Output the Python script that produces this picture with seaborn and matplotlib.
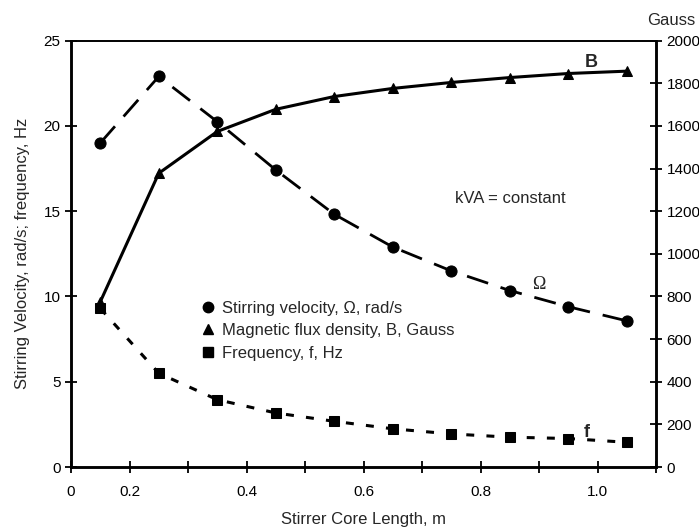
import pandas as pd
import seaborn as sns
import matplotlib.pyplot as plt
from matplotlib.lines import Line2D

# --- data ---
core_length = [0.15, 0.25, 0.35, 0.45, 0.55, 0.65, 0.75, 0.85, 0.95, 1.05]
omega = [19.0, 22.9, 20.25, 17.42, 14.82, 12.9, 11.5, 10.35, 9.4, 8.57]      # rad/s
freq = [9.3, 5.5, 3.95, 3.17, 2.68, 2.24, 1.94, 1.75, 1.67, 1.45]            # Hz
flux_b = [775, 1378, 1574, 1678, 1738, 1776, 1804, 1827, 1846, 1857]         # Gauss

x_tick_pos = [0.1, 0.2, 0.4, 0.6, 0.8, 1.0]
x_tick_lab = ["0", "0.2", "0.4", "0.6", "0.8", "1.0"]

df = pd.DataFrame({"L": core_length, "omega": omega, "f": freq, "B": flux_b})

sns.set_style("ticks")
plt.rcParams["font.family"] = ["Liberation Sans", "DejaVu Sans"]

fig = plt.figure(figsize=(6.99, 5.31), dpi=100)
ax = fig.add_axes([0.1016, 0.1205, 0.8369, 0.8029])
ax2 = ax.twinx()

sns.lineplot(data=df, x="L", y="omega", ax=ax, color="black", lw=2.0,
             linestyle=(0, (8.0, 4.7)), marker="o", markersize=8,
             markeredgecolor="black")
sns.lineplot(data=df, x="L", y="f", ax=ax, color="black", lw=2.2,
             linestyle=(0, (2.6, 4.0)), marker="s", markersize=6.8,
             markeredgecolor="black")
sns.lineplot(data=df, x="L", y="B", ax=ax2, color="black", lw=2.2,
             linestyle="-", marker="^", markersize=7.5,
             markeredgecolor="black")

ax.set_xlim(0.1, 1.1)
ax.set_ylim(0, 25)
ax2.set_ylim(0, 2000)
ax.set_xticks(x_tick_pos)
ax.set_xticklabels(x_tick_lab)
ax.set_xticks([0.3, 0.5, 0.7, 0.9, 1.1], minor=True)
ax.set_yticks([0, 5, 10, 15, 20, 25])
ax2.set_yticks(range(0, 2001, 200))

for a in (ax, ax2):
    a.tick_params(which="both", direction="inout", length=8, width=1.3,
                  labelsize=11, colors="black")
    for s in a.spines.values():
        s.set_linewidth(1.8)
        s.set_color("black")
    a.spines["top"].set_linewidth(1.2)
ax.tick_params(axis="x", which="both", pad=9)

ax.set_xlabel("Stirrer Core Length, m", fontsize=12, labelpad=9)
ax.set_ylabel("Stirring Velocity, rad/s; frequency, Hz", fontsize=12, labelpad=10)
ax2.set_ylabel("")
ax2.text(1.126, 2060, "Gauss", fontsize=12, ha="center", va="bottom")

ax.text(0.99, 23.7, "B", fontsize=13, fontweight="bold", ha="center", va="center")
ax.text(0.756, 15.75, "kVA = constant", fontsize=12, va="center")
ax.text(0.9, 10.7, "Ω", fontsize=13, ha="center", va="center",
        family=["Liberation Serif", "DejaVu Serif"])
ax.text(0.982, 2.05, "f", fontsize=13, fontweight="bold", ha="center", va="center")

handles = [
    Line2D([], [], color="black", marker="o", linestyle="", markersize=7.5),
    Line2D([], [], color="black", marker="^", linestyle="", markersize=7.5),
    Line2D([], [], color="black", marker="s", linestyle="", markersize=6.5),
]
labels = ["Stirring velocity, Ω, rad/s",
          "Magnetic flux density, B, Gauss",
          "Frequency, f, Hz"]
ax.legend(handles, labels, loc="upper left", bbox_to_anchor=(0.205, 0.41),
          frameon=False, fontsize=12, handletextpad=0.35, labelspacing=0.45,
          handlelength=1.0, borderpad=0)

fig.savefig("out.png", dpi=100)
